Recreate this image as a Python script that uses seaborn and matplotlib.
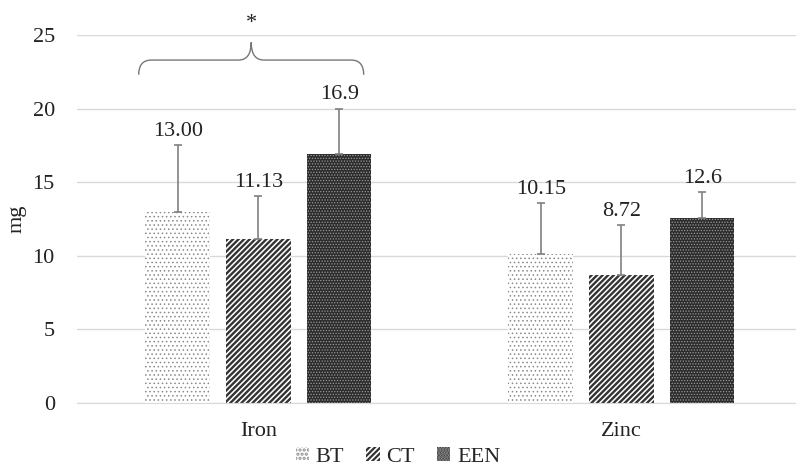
import numpy as np
import pandas as pd
import matplotlib
matplotlib.use("Agg")
import matplotlib.pyplot as plt
import seaborn as sns
from matplotlib.path import Path
from matplotlib.patches import PathPatch, Patch

# values
nutrients = ["Iron", "Zinc"]
groups = ["BT", "CT", "EEN"]
means = {"BT": [13.00, 10.15], "CT": [11.13, 8.72], "EEN": [16.9, 12.6]}
errors = {"BT": [4.5, 3.45], "CT": [2.95, 3.35], "EEN": [3.1, 1.75]}
labels = {"BT": ["13.00", "10.15"], "CT": ["11.13", "8.72"], "EEN": ["16.9", "12.6"]}

rows = []
for g in groups:
    for i, n in enumerate(nutrients):
        rows.append({"nutrient": n, "group": g, "mg": means[g][i]})
df = pd.DataFrame(rows)

sns.set_style("white")
plt.rcParams["font.family"] = ["Liberation Serif", "DejaVu Serif"]
plt.rcParams["hatch.linewidth"] = 1.6

fig = plt.figure(figsize=(7.96, 4.67), dpi=100)
ax = fig.add_axes([0.0967, 0.137, 0.912, 0.788])

face = {"BT": "white", "CT": "white", "EEN": "#2c2c2c"}
hatch = {"BT": "....", "CT": "//////", "EEN": "......"}
hcol = {"BT": "#8a8a8a", "CT": "#333333", "EEN": "#9a9a9a"}
hlw = {"BT": 0.6, "CT": 1.7, "EEN": 0.6}

sns.barplot(data=df, x="nutrient", y="mg", hue="group", order=nutrients,
            hue_order=groups, palette=[face[g] for g in groups],
            width=0.667, gap=0.2, errorbar=None, legend=False, ax=ax)

for cont, g in zip(ax.containers, groups):
    for i, bar in enumerate(cont):
        bar.set_hatch(hatch[g])
        bar.set_edgecolor(hcol[g])
        bar.set_linewidth(0)
        if hasattr(bar, "set_hatch_linewidth"):
            bar.set_hatch_linewidth(hlw[g])
        xc = bar.get_x() + bar.get_width() / 2
        ax.errorbar(xc, means[g][i], yerr=[[0], [errors[g][i]]], fmt="none",
                    ecolor="#808080", elinewidth=1.2, capsize=3, capthick=1.2, zorder=3)
        ax.annotate(labels[g][i], (xc, means[g][i] + errors[g][i]),
                    xytext=(0, 3), textcoords="offset points",
                    ha="center", va="bottom", fontsize=16, color="#222222")

ax.set_ylim(0, 25)
ax.set_xlim(-0.5, 1.5)
ax.set_yticks([0, 5, 10, 15, 20, 25])
ax.yaxis.grid(True, color="#d9d9d9", linewidth=1)
ax.set_axisbelow(True)
for s in ["left", "right", "top"]:
    ax.spines[s].set_visible(False)
ax.spines["bottom"].set_color("#d9d9d9")
ax.tick_params(axis="y", length=0, labelsize=16, colors="#222222", pad=16)
ax.tick_params(axis="x", length=0, labelsize=16, colors="#222222", pad=14)
ax.set_xlabel("")
ax.set_ylabel("mg", fontsize=16, color="#222222", labelpad=4)

# curly brace with significance star over Iron
x0, x1, xm = -0.33, 0.29, -0.02
yb, yh, yt, rx = 22.3, 23.3, 24.5, 0.035
verts = [(x0, yb), (x0, yh), (x0 + rx, yh), (xm - rx, yh), (xm, yh), (xm, yt),
         (xm, yt), (xm, yh), (xm + rx, yh), (x1 - rx, yh), (x1, yh), (x1, yb)]
codes = [Path.MOVETO, Path.CURVE3, Path.CURVE3, Path.LINETO, Path.CURVE3, Path.CURVE3,
         Path.MOVETO, Path.CURVE3, Path.CURVE3, Path.LINETO, Path.CURVE3, Path.CURVE3]
ax.add_patch(PathPatch(Path(verts, codes), facecolor="none", edgecolor="#777777",
                       linewidth=1, clip_on=False))
ax.text(xm, 25.8, "*", ha="center", va="center", fontsize=16, color="#222222",
        clip_on=False)

handles = [Patch(facecolor=face[g], edgecolor=hcol[g], hatch=hatch[g], linewidth=0)
           for g in groups]
fig.legend(handles, groups, loc="center", bbox_to_anchor=(0.5, 0.022), ncol=3,
           frameon=False, fontsize=16, handlelength=0.6, handleheight=0.6,
           handletextpad=0.3, columnspacing=1.0)

fig.savefig("out.png", dpi=100)
